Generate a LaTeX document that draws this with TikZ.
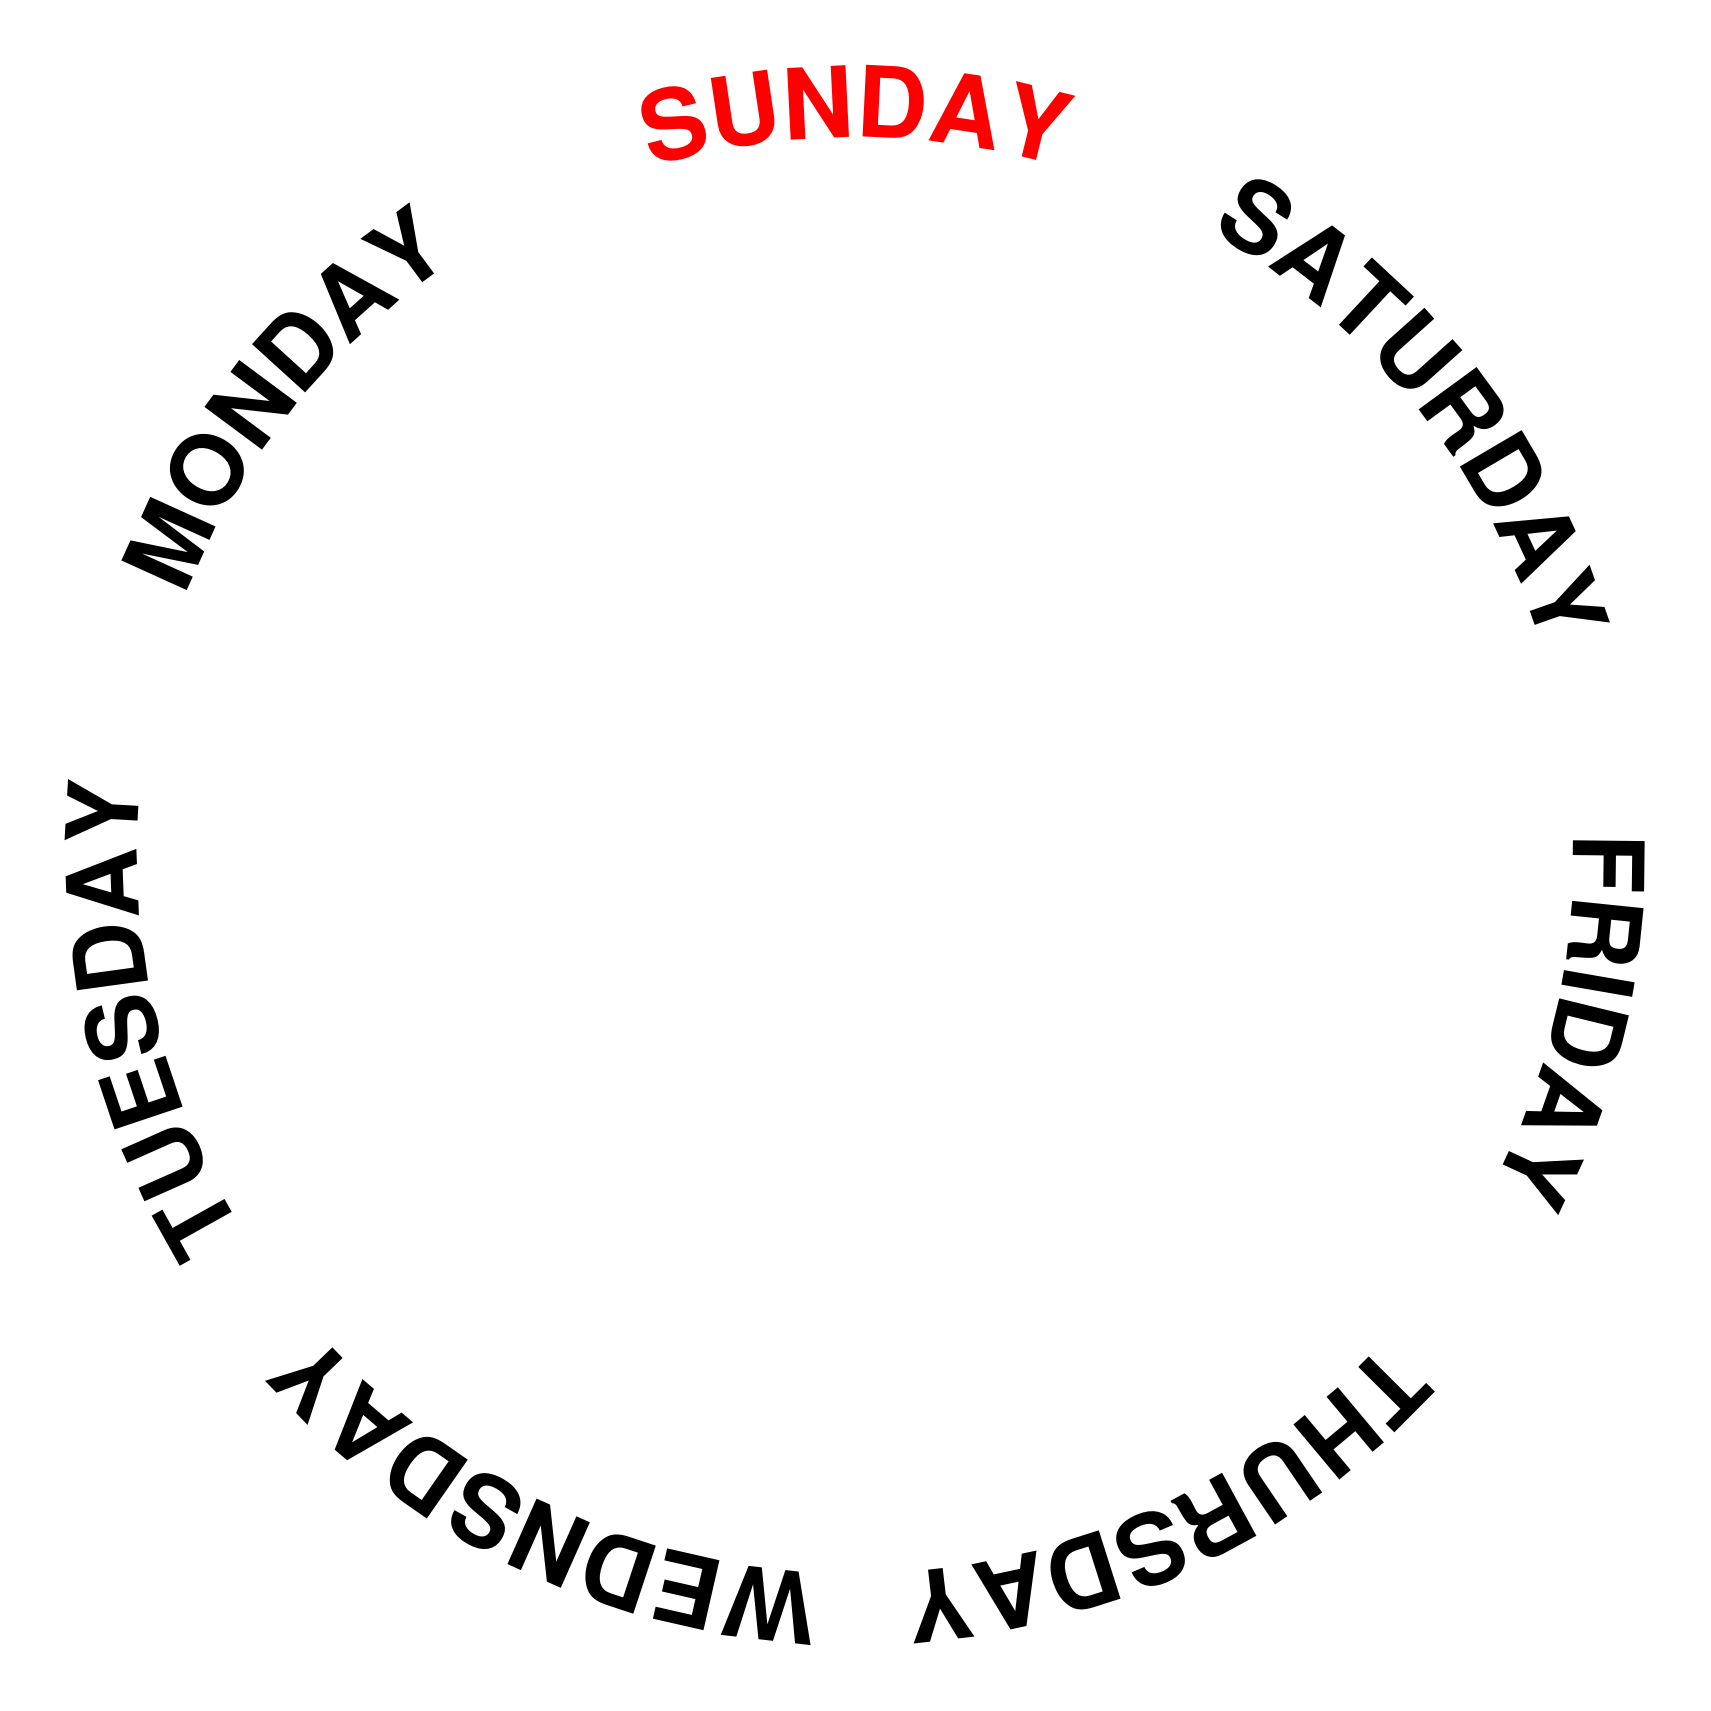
\documentclass[tikz,border=0pt]{standalone}
\usepackage{fontspec}
\setmainfont{Liberation Sans}
\newfontfamily\daysans{texgyreheros-bold.otf}
\usepackage{tikz}
\usetikzlibrary{decorations.text}
\definecolor{SundayRed}{RGB}{255,0,0}
\newcommand{\dayfont}{\daysans\fontsize{28}{30}\selectfont}
\tikzset{
	daylabel/.style={decorate,decoration={text along path,text align=center,
		text/.expanded={|\noexpand\dayfont|#1}}}
}
\begin{document}
\begin{tikzpicture}
\useasboundingbox (-8.555,-8.555) rectangle (8.555,8.555);
\def\rbase{7.18}
% sunday on top, in red
\path[decorate,decoration={text along path,text align=center,text={|\dayfont\color{SundayRed}|SUNDAY}}]
	(120:\rbase) arc[start angle=120,end angle=60,radius=\rbase];
% the rest, clockwise
\foreach \day [count=\i] in {SATURDAY,FRIDAY,THURSDAY,WEDNSDAY,TUESDAY,MONDAY}{
	\pgfmathsetmacro{\ang}{90-\i*360/7}
	\path[daylabel=\day] (\ang+30:\rbase) arc[start angle=\ang+30,end angle=\ang-30,radius=\rbase];
}
\end{tikzpicture}
\end{document}
